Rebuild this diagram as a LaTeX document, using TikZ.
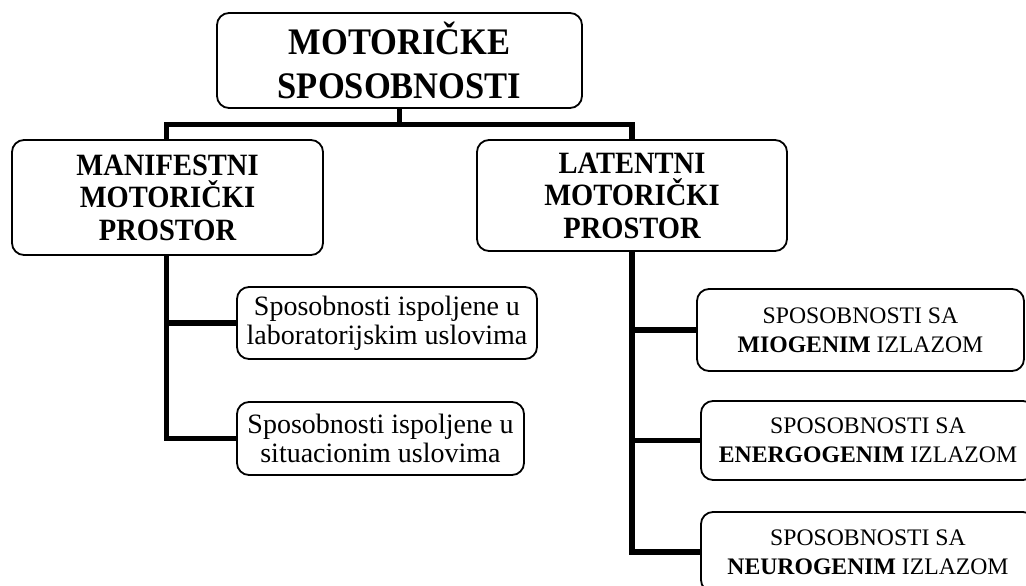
\documentclass[tikz,border=0pt]{standalone}
\usepackage{fontspec}
\setmainfont{Liberation Serif}
\newfontfamily\headfont{Liberation Serif}[FakeStretch=0.92]
\usepackage{tikz}

\begin{document}
\begin{tikzpicture}[x=1pt,y=-1pt,
  box/.style={draw=black, line width=1.8pt, rounded corners=12pt, inner sep=0pt, align=center},
  conn/.style={draw=black, line width=5.5pt},
  toptext/.style={font=\fontsize{37.5}{44}\selectfont\headfont\bfseries},
  midtext/.style={font=\fontsize{31}{32.5}\selectfont\headfont\bfseries},
  leaftext/.style={font=\fontsize{28}{29}\selectfont},
  captext/.style={font=\fontsize{23.7}{29}\selectfont}]
\useasboundingbox (0,0) rectangle (1026,586);
\node[box, toptext, minimum width=365pt, minimum height=95pt] (MS) at (399.5,60.5) {MOTORIČKE\\SPOSOBNOSTI};
\node[box, midtext, minimum width=311pt, minimum height=115pt] (MMP) at (167.5,197.5) {MANIFESTNI\\MOTORIČKI\\PROSTOR};
\node[box, midtext, minimum width=310pt, minimum height=111pt] (LMP) at (632,195.5) {LATENTNI\\MOTORIČKI\\PROSTOR};
\node[box, leaftext, minimum width=300pt, minimum height=72pt] (LAB) at (387,323) {Sposobnosti ispoljene u\\laboratorijskim uslovima};
\node[box, leaftext, minimum width=287pt, minimum height=73pt] (SIT) at (380.5,438.5) {Sposobnosti ispoljene u\\situacionim uslovima};
\node[box, captext, minimum width=327pt, minimum height=82pt] (MIO) at (860.5,330) {SPOSOBNOSTI SA\\\textbf{MIOGENIM} IZLAZOM};
\node[box, captext, minimum width=334pt, minimum height=79pt] (ENE) at (868,440.5) {SPOSOBNOSTI SA\\\textbf{ENERGOGENIM} IZLAZOM};
\node[box, captext, minimum width=334pt, minimum height=80pt] (NEU) at (868,552) {SPOSOBNOSTI SA\\\textbf{NEUROGENIM} IZLAZOM};
\coordinate (busL) at (166.5,124.5);
\coordinate (busR) at (632,124.5);
\draw[conn] (MS.south) -- (MS.south |- busL);
\draw[conn] (MMP.north -| busL) -- (busL) -- (busR) -- (LMP.north -| busR);
\draw[conn] (MMP.south -| busL) |- (LAB.west);
\draw[conn] (MMP.south -| busL) |- (SIT.west);
\draw[conn] (LMP.south -| busR) |- (MIO.west);
\draw[conn] (LMP.south -| busR) |- (ENE.west);
\draw[conn] (LMP.south -| busR) |- (NEU.west);
\end{tikzpicture}
\end{document}
